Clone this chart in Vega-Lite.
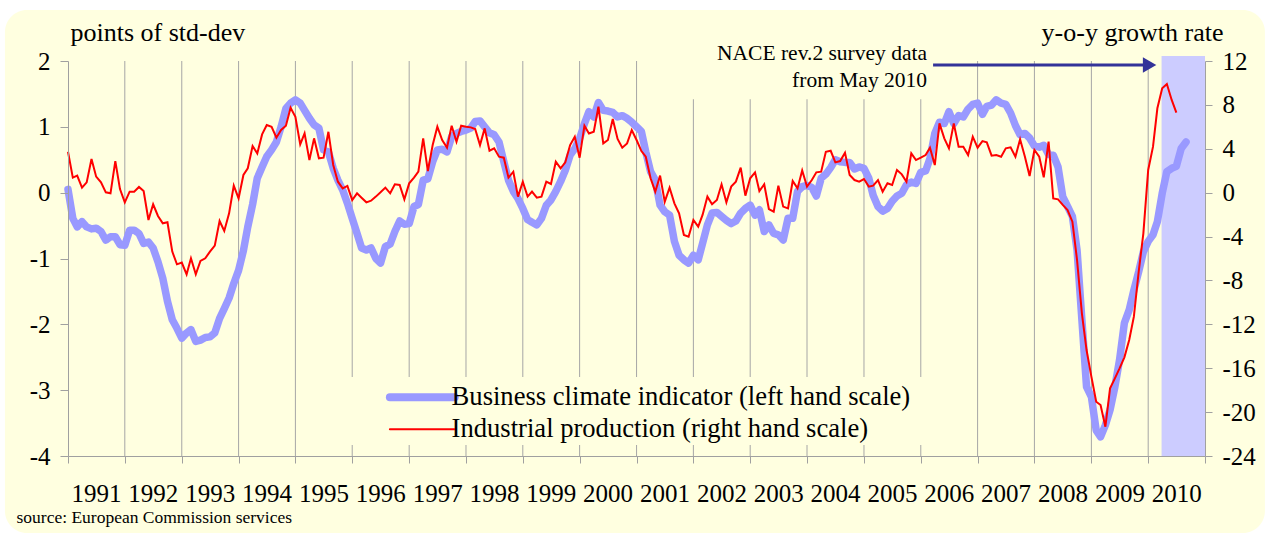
{
  "$schema": "https://vega.github.io/schema/vega-lite/v6.json",
  "width": 1137,
  "height": 395,
  "autosize": "none",
  "padding": {"left": 68, "top": 61, "right": 64, "bottom": 79},
  "background": "white",
  "config": {"view": {"stroke": null}, "font": "Liberation Serif"},
  "datasets": {
    "years": [{"yr":"1992-01-01"},{"yr":"1993-01-01"},{"yr":"1994-01-01"},{"yr":"1995-01-01"},{"yr":"1996-01-01"},{"yr":"1997-01-01"},{"yr":"1998-01-01"},{"yr":"1999-01-01"},{"yr":"2000-01-01"},{"yr":"2001-01-01"},{"yr":"2002-01-01"},{"yr":"2003-01-01"},{"yr":"2004-01-01"},{"yr":"2005-01-01"},{"yr":"2006-01-01"},{"yr":"2007-01-01"},{"yr":"2008-01-01"},{"yr":"2009-01-01"},{"yr":"2010-01-01"}],
    "series": [
      {"d":"1991-01-01","b":0.05,"p":3.73},{"d":"1991-02-01","b":-0.39,"p":1.37},{"d":"1991-03-01","b":-0.52,"p":1.55},{"d":"1991-04-01","b":-0.44,"p":0.46},{"d":"1991-05-01","b":-0.52,"p":0.94},{"d":"1991-06-01","b":-0.55,"p":3.07},{"d":"1991-07-01","b":-0.54,"p":1.46},{"d":"1991-08-01","b":-0.59,"p":0.94},{"d":"1991-09-01","b":-0.72,"p":0.03},{"d":"1991-10-01","b":-0.67,"p":-0.06},{"d":"1991-11-01","b":-0.67,"p":2.88},{"d":"1991-12-01","b":-0.79,"p":0.33},
      {"d":"1992-01-01","b":-0.80,"p":-0.88},{"d":"1992-02-01","b":-0.57,"p":0.09},{"d":"1992-03-01","b":-0.57,"p":0.09},{"d":"1992-04-01","b":-0.62,"p":0.52},{"d":"1992-05-01","b":-0.77,"p":0.15},{"d":"1992-06-01","b":-0.75,"p":-2.49},{"d":"1992-07-01","b":-0.84,"p":-1.06},{"d":"1992-08-01","b":-1.05,"p":-2.12},{"d":"1992-09-01","b":-1.30,"p":-2.79},{"d":"1992-10-01","b":-1.65,"p":-2.70},{"d":"1992-11-01","b":-1.93,"p":-5.37},{"d":"1992-12-01","b":-2.06,"p":-6.53},
      {"d":"1993-01-01","b":-2.21,"p":-6.37},{"d":"1993-02-01","b":-2.13,"p":-7.44},{"d":"1993-03-01","b":-2.08,"p":-5.98},{"d":"1993-04-01","b":-2.26,"p":-7.44},{"d":"1993-05-01","b":-2.24,"p":-6.22},{"d":"1993-06-01","b":-2.20,"p":-5.98},{"d":"1993-07-01","b":-2.19,"p":-5.37},{"d":"1993-08-01","b":-2.13,"p":-4.83},{"d":"1993-09-01","b":-1.91,"p":-2.58},{"d":"1993-10-01","b":-1.76,"p":-3.49},{"d":"1993-11-01","b":-1.60,"p":-1.88},{"d":"1993-12-01","b":-1.38,"p":0.64},
      {"d":"1994-01-01","b":-1.18,"p":-0.52},{"d":"1994-02-01","b":-0.88,"p":1.61},{"d":"1994-03-01","b":-0.52,"p":2.22},{"d":"1994-04-01","b":-0.18,"p":4.25},{"d":"1994-05-01","b":0.22,"p":3.58},{"d":"1994-06-01","b":0.39,"p":5.31},{"d":"1994-07-01","b":0.55,"p":6.16},{"d":"1994-08-01","b":0.65,"p":6.01},{"d":"1994-09-01","b":0.77,"p":5.01},{"d":"1994-10-01","b":1.00,"p":5.71},{"d":"1994-11-01","b":1.28,"p":6.10},{"d":"1994-12-01","b":1.36,"p":7.74},
      {"d":"1995-01-01","b":1.41,"p":6.92},{"d":"1995-02-01","b":1.36,"p":4.40},{"d":"1995-03-01","b":1.25,"p":5.40},{"d":"1995-04-01","b":1.13,"p":2.97},{"d":"1995-05-01","b":1.03,"p":4.95},{"d":"1995-06-01","b":0.98,"p":3.13},{"d":"1995-07-01","b":0.65,"p":3.19},{"d":"1995-08-01","b":0.62,"p":5.55},{"d":"1995-09-01","b":0.37,"p":2.52},{"d":"1995-10-01","b":0.19,"p":1.00},{"d":"1995-11-01","b":0.04,"p":0.39},{"d":"1995-12-01","b":-0.16,"p":0.61},
      {"d":"1996-01-01","b":-0.39,"p":-0.67},{"d":"1996-02-01","b":-0.62,"p":-0.06},{"d":"1996-03-01","b":-0.84,"p":-0.46},{"d":"1996-04-01","b":-0.87,"p":-0.88},{"d":"1996-05-01","b":-0.84,"p":-0.73},{"d":"1996-06-01","b":-1.00,"p":-0.36},{"d":"1996-07-01","b":-1.07,"p":0.03},{"d":"1996-08-01","b":-0.82,"p":0.46},{"d":"1996-09-01","b":-0.78,"p":-0.06},{"d":"1996-10-01","b":-0.59,"p":0.76},{"d":"1996-11-01","b":-0.43,"p":0.70},{"d":"1996-12-01","b":-0.48,"p":-0.61},
      {"d":"1997-01-01","b":-0.47,"p":0.85},{"d":"1997-02-01","b":-0.21,"p":1.37},{"d":"1997-03-01","b":-0.18,"p":1.91},{"d":"1997-04-01","b":0.19,"p":4.95},{"d":"1997-05-01","b":0.21,"p":1.97},{"d":"1997-06-01","b":0.47,"p":4.34},{"d":"1997-07-01","b":0.65,"p":6.01},{"d":"1997-08-01","b":0.66,"p":4.80},{"d":"1997-09-01","b":0.62,"p":4.10},{"d":"1997-10-01","b":0.85,"p":6.10},{"d":"1997-11-01","b":0.90,"p":4.64},{"d":"1997-12-01","b":0.93,"p":6.10},
      {"d":"1998-01-01","b":0.95,"p":6.01},{"d":"1998-02-01","b":0.98,"p":5.95},{"d":"1998-03-01","b":1.08,"p":5.80},{"d":"1998-04-01","b":1.09,"p":4.34},{"d":"1998-05-01","b":1.00,"p":5.86},{"d":"1998-06-01","b":0.91,"p":3.82},{"d":"1998-07-01","b":0.88,"p":4.04},{"d":"1998-08-01","b":0.77,"p":3.28},{"d":"1998-09-01","b":0.47,"p":3.19},{"d":"1998-10-01","b":0.19,"p":1.37},{"d":"1998-11-01","b":0.02,"p":1.91},{"d":"1998-12-01","b":-0.09,"p":-0.36},
      {"d":"1999-01-01","b":-0.24,"p":1.00},{"d":"1999-02-01","b":-0.41,"p":-0.36},{"d":"1999-03-01","b":-0.45,"p":0.09},{"d":"1999-04-01","b":-0.49,"p":-0.46},{"d":"1999-05-01","b":-0.39,"p":-0.36},{"d":"1999-06-01","b":-0.19,"p":1.00},{"d":"1999-07-01","b":-0.11,"p":0.79},{"d":"1999-08-01","b":0.02,"p":2.82},{"d":"1999-09-01","b":0.17,"p":2.22},{"d":"1999-10-01","b":0.34,"p":2.76},{"d":"1999-11-01","b":0.57,"p":4.34},{"d":"1999-12-01","b":0.67,"p":5.10},
      {"d":"2000-01-01","b":0.82,"p":3.19},{"d":"2000-02-01","b":1.05,"p":6.10},{"d":"2000-03-01","b":1.23,"p":5.40},{"d":"2000-04-01","b":1.15,"p":5.55},{"d":"2000-05-01","b":1.37,"p":7.83},{"d":"2000-06-01","b":1.25,"p":4.49},{"d":"2000-07-01","b":1.24,"p":4.80},{"d":"2000-08-01","b":1.22,"p":6.71},{"d":"2000-09-01","b":1.15,"p":4.89},{"d":"2000-10-01","b":1.17,"p":4.10},{"d":"2000-11-01","b":1.13,"p":4.49},{"d":"2000-12-01","b":1.07,"p":5.71},
      {"d":"2001-01-01","b":1.00,"p":4.80},{"d":"2001-02-01","b":0.93,"p":3.79},{"d":"2001-03-01","b":0.62,"p":3.28},{"d":"2001-04-01","b":0.32,"p":1.31},{"d":"2001-05-01","b":0.19,"p":0.09},{"d":"2001-06-01","b":-0.19,"p":1.55},{"d":"2001-07-01","b":-0.29,"p":-0.82},{"d":"2001-08-01","b":-0.34,"p":0.46},{"d":"2001-09-01","b":-0.74,"p":-0.97},{"d":"2001-10-01","b":-0.95,"p":-1.88},{"d":"2001-11-01","b":-1.02,"p":-3.85},{"d":"2001-12-01","b":-1.07,"p":-4.01},
      {"d":"2002-01-01","b":-0.95,"p":-2.49},{"d":"2002-02-01","b":-1.02,"p":-3.10},{"d":"2002-03-01","b":-0.77,"p":-2.03},{"d":"2002-04-01","b":-0.49,"p":-0.36},{"d":"2002-05-01","b":-0.31,"p":-1.06},{"d":"2002-06-01","b":-0.30,"p":-0.67},{"d":"2002-07-01","b":-0.36,"p":0.76},{"d":"2002-08-01","b":-0.42,"p":-0.88},{"d":"2002-09-01","b":-0.47,"p":0.55},{"d":"2002-10-01","b":-0.43,"p":1.00},{"d":"2002-11-01","b":-0.31,"p":2.28},{"d":"2002-12-01","b":-0.24,"p":-0.27},
      {"d":"2003-01-01","b":-0.19,"p":1.31},{"d":"2003-02-01","b":-0.34,"p":1.85},{"d":"2003-03-01","b":-0.26,"p":0.15},{"d":"2003-04-01","b":-0.59,"p":0.76},{"d":"2003-05-01","b":-0.49,"p":-1.49},{"d":"2003-06-01","b":-0.62,"p":-1.73},{"d":"2003-07-01","b":-0.64,"p":0.64},{"d":"2003-08-01","b":-0.72,"p":-1.27},{"d":"2003-09-01","b":-0.39,"p":-1.43},{"d":"2003-10-01","b":-0.39,"p":1.06},{"d":"2003-11-01","b":0.02,"p":0.39},{"d":"2003-12-01","b":0.09,"p":2.03},
      {"d":"2004-01-01","b":0.11,"p":0.55},{"d":"2004-02-01","b":0.08,"p":1.15},{"d":"2004-03-01","b":-0.05,"p":1.85},{"d":"2004-04-01","b":0.22,"p":1.91},{"d":"2004-05-01","b":0.28,"p":3.73},{"d":"2004-06-01","b":0.38,"p":3.82},{"d":"2004-07-01","b":0.50,"p":2.76},{"d":"2004-08-01","b":0.47,"p":2.88},{"d":"2004-09-01","b":0.46,"p":3.64},{"d":"2004-10-01","b":0.46,"p":1.61},{"d":"2004-11-01","b":0.36,"p":1.15},{"d":"2004-12-01","b":0.39,"p":1.00},
      {"d":"2005-01-01","b":0.37,"p":1.24},{"d":"2005-02-01","b":0.22,"p":0.55},{"d":"2005-03-01","b":-0.04,"p":0.64},{"d":"2005-04-01","b":-0.21,"p":1.15},{"d":"2005-05-01","b":-0.28,"p":0.09},{"d":"2005-06-01","b":-0.24,"p":0.85},{"d":"2005-07-01","b":-0.13,"p":0.70},{"d":"2005-08-01","b":-0.05,"p":2.06},{"d":"2005-09-01","b":-0.01,"p":1.67},{"d":"2005-10-01","b":0.12,"p":1.00},{"d":"2005-11-01","b":0.16,"p":3.58},{"d":"2005-12-01","b":0.14,"p":2.97},
      {"d":"2006-01-01","b":0.31,"p":3.19},{"d":"2006-02-01","b":0.33,"p":3.43},{"d":"2006-03-01","b":0.52,"p":4.10},{"d":"2006-04-01","b":0.90,"p":2.52},{"d":"2006-05-01","b":1.07,"p":6.31},{"d":"2006-06-01","b":1.05,"p":4.95},{"d":"2006-07-01","b":1.23,"p":4.04},{"d":"2006-08-01","b":1.05,"p":6.31},{"d":"2006-09-01","b":1.17,"p":4.19},{"d":"2006-10-01","b":1.15,"p":4.19},{"d":"2006-11-01","b":1.27,"p":3.43},{"d":"2006-12-01","b":1.34,"p":5.10},
      {"d":"2007-01-01","b":1.36,"p":4.10},{"d":"2007-02-01","b":1.19,"p":4.70},{"d":"2007-03-01","b":1.31,"p":4.58},{"d":"2007-04-01","b":1.33,"p":3.37},{"d":"2007-05-01","b":1.41,"p":3.43},{"d":"2007-06-01","b":1.36,"p":3.28},{"d":"2007-07-01","b":1.34,"p":4.04},{"d":"2007-08-01","b":1.21,"p":4.13},{"d":"2007-09-01","b":1.02,"p":3.28},{"d":"2007-10-01","b":0.88,"p":4.86},{"d":"2007-11-01","b":0.90,"p":3.28},{"d":"2007-12-01","b":0.83,"p":1.52},
      {"d":"2008-01-01","b":0.71,"p":3.89},{"d":"2008-02-01","b":0.69,"p":3.28},{"d":"2008-03-01","b":0.72,"p":1.40},{"d":"2008-04-01","b":0.58,"p":4.65},{"d":"2008-05-01","b":0.57,"p":-0.52},{"d":"2008-06-01","b":0.39,"p":-0.61},{"d":"2008-07-01","b":-0.06,"p":-1.12},{"d":"2008-08-01","b":-0.21,"p":-1.58},{"d":"2008-09-01","b":-0.36,"p":-2.64},{"d":"2008-10-01","b":-0.87,"p":-6.14},{"d":"2008-11-01","b":-1.93,"p":-11.0},{"d":"2008-12-01","b":-2.95,"p":-14.34},
      {"d":"2009-01-01","b":-3.10,"p":-16.77},{"d":"2009-02-01","b":-3.61,"p":-19.05},{"d":"2009-03-01","b":-3.71,"p":-19.35},{"d":"2009-04-01","b":-3.53,"p":-21.33},{"d":"2009-05-01","b":-3.30,"p":-17.83},{"d":"2009-06-01","b":-2.95,"p":-16.92},{"d":"2009-07-01","b":-2.54,"p":-16.01},{"d":"2009-08-01","b":-1.98,"p":-15.01},{"d":"2009-09-01","b":-1.78,"p":-13.43},{"d":"2009-10-01","b":-1.48,"p":-11.30},{"d":"2009-11-01","b":-1.20,"p":-7.20},{"d":"2009-12-01","b":-0.90,"p":-3.71},
      {"d":"2010-01-01","b":-0.74,"p":2.07},{"d":"2010-02-01","b":-0.64,"p":4.19},{"d":"2010-03-01","b":-0.44,"p":7.69},{"d":"2010-04-01","b":-0.01,"p":9.51},{"d":"2010-05-01","b":0.32,"p":9.90},{"d":"2010-06-01","b":0.37,"p":8.45},{"d":"2010-07-01","b":0.40,"p":7.29},{"d":"2010-08-01","b":0.67},{"d":"2010-09-01","b":0.77}
    ]
  },
  "layer": [
    {
      "data": {"values": [{}]},
      "mark": {"type": "rect", "fill": "#FFFFE0", "cornerRadius": 22},
      "encoding": {
        "x": {"datum": {"year": 1989, "month": 11, "date": 22, "utc": true}, "type": "temporal",
              "scale": {"type": "utc", "domain": [{"year": 1991, "month": 1, "date": 1, "utc": true}, {"year": 2011, "month": 1, "date": 1, "utc": true}]}},
        "x2": {"datum": {"year": 2012, "month": 1, "date": 21, "utc": true}},
        "y": {"datum": 2.775, "type": "quantitative", "axis": null, "scale": {"domain": [-4, 2], "nice": false, "zero": false}},
        "y2": {"datum": -5.17}
      }
    },
    {
      "data": {"name": "years"},
      "mark": {"type": "rule", "color": "#A6A6A6", "strokeWidth": 1},
      "encoding": {
        "x": {"field": "yr", "type": "temporal",
              "scale": {"type": "utc", "domain": [{"year": 1991, "month": 1, "date": 1, "utc": true}, {"year": 2011, "month": 1, "date": 1, "utc": true}]}},
        "y": {"datum": 2, "type": "quantitative", "axis": null, "scale": {"domain": [-4, 2], "nice": false, "zero": false}},
        "y2": {"datum": -4}
      }
    },
    {
      "data": {"values": [{}]},
      "mark": {"type": "rect", "fill": "#FFFFE0"},
      "encoding": {
        "x": {"datum": {"year": 1995, "month": 9, "date": 12, "utc": true}, "type": "temporal",
              "scale": {"type": "utc", "domain": [{"year": 1991, "month": 1, "date": 1, "utc": true}, {"year": 2011, "month": 1, "date": 1, "utc": true}]}},
        "x2": {"datum": {"year": 2006, "month": 4, "date": 1, "utc": true}},
        "y": {"datum": -2.8, "type": "quantitative", "axis": null, "scale": {"domain": [-4, 2], "nice": false, "zero": false}},
        "y2": {"datum": -3.833}
      }
    },
    {
      "data": {"values": [{}]},
      "mark": {"type": "rect", "fill": "#FFFFE0"},
      "encoding": {
        "x": {"datum": {"year": 2001, "month": 12, "date": 10, "utc": true}, "type": "temporal",
              "scale": {"type": "utc", "domain": [{"year": 1991, "month": 1, "date": 1, "utc": true}, {"year": 2011, "month": 1, "date": 1, "utc": true}]}},
        "x2": {"datum": {"year": 2006, "month": 3, "date": 12, "utc": true}},
        "y": {"datum": 2.02, "type": "quantitative", "axis": null, "scale": {"domain": [-4, 2], "nice": false, "zero": false}},
        "y2": {"datum": 1.42}
      }
    },
    {
      "data": {"values": [{}]},
      "mark": {"type": "rect", "fill": "#CCCCFF"},
      "encoding": {
        "x": {"datum": {"year": 2010, "month": 3, "date": 28, "utc": true}, "type": "temporal",
              "scale": {"type": "utc", "domain": [{"year": 1991, "month": 1, "date": 1, "utc": true}, {"year": 2011, "month": 1, "date": 1, "utc": true}]}},
        "x2": {"datum": {"year": 2011, "month": 1, "date": 1, "utc": true}},
        "y": {"datum": 2.076, "type": "quantitative", "axis": null, "scale": {"domain": [-4, 2], "nice": false, "zero": false}},
        "y2": {"datum": -4}
      }
    },
    {
      "data": {"values": [{}]},
      "mark": {"type": "rule", "color": "#333399", "strokeWidth": 3},
      "encoding": {
        "x": {"datum": {"year": 2006, "month": 3, "date": 21, "utc": true}, "type": "temporal",
              "scale": {"type": "utc", "domain": [{"year": 1991, "month": 1, "date": 1, "utc": true}, {"year": 2011, "month": 1, "date": 1, "utc": true}]}},
        "x2": {"datum": {"year": 2010, "month": 1, "date": 1, "utc": true}},
        "y": {"datum": 1.939, "type": "quantitative", "axis": null, "scale": {"domain": [-4, 2], "nice": false, "zero": false}}
      }
    },
    {
      "data": {"values": [{}]},
      "mark": {"type": "point", "shape": "triangle-right", "filled": true, "color": "#333399", "size": 240, "opacity": 1},
      "encoding": {
        "x": {"datum": {"year": 2010, "month": 1, "date": 10, "utc": true}, "type": "temporal",
              "scale": {"type": "utc", "domain": [{"year": 1991, "month": 1, "date": 1, "utc": true}, {"year": 2011, "month": 1, "date": 1, "utc": true}]}},
        "y": {"datum": 1.939, "type": "quantitative", "axis": null, "scale": {"domain": [-4, 2], "nice": false, "zero": false}}
      }
    },
    {
      "data": {"values": [{}]},
      "mark": {"type": "text", "text": ["NACE rev.2 survey data", "from May 2010"], "align": "right", "baseline": "alphabetic", "fontSize": 21.5, "lineHeight": 27, "color": "black"},
      "encoding": {
        "x": {"datum": {"year": 2006, "month": 2, "date": 10, "utc": true}, "type": "temporal",
              "scale": {"type": "utc", "domain": [{"year": 1991, "month": 1, "date": 1, "utc": true}, {"year": 2011, "month": 1, "date": 1, "utc": true}]}},
        "y": {"datum": 2.015, "type": "quantitative", "axis": null, "scale": {"domain": [-4, 2], "nice": false, "zero": false}}
      }
    },
    {
      "data": {"name": "series"},
      "mark": {"type": "line", "strokeWidth": 7.5, "strokeCap": "round", "strokeJoin": "round"},
      "encoding": {
        "x": {"field": "d", "type": "temporal",
              "scale": {"type": "utc", "domain": [{"year": 1991, "month": 1, "date": 1, "utc": true}, {"year": 2011, "month": 1, "date": 1, "utc": true}]}},
        "y": {"field": "b", "type": "quantitative",
              "scale": {"domain": [-4, 2], "nice": false, "zero": false},
              "axis": {
                "orient": "left",
                "values": [-4, -3, -2, -1, 0, 1, 2],
                "labelExpr": "datum.value + ''",
                "labelFontSize": 25,
                "labelColor": "black",
                "labelPadding": 10,
                "labelFlush": false,
                "tickSize": 8,
                "tickColor": "#A0A0A0",
                "domainColor": "#A0A0A0",
                "grid": false,
                "zindex": 1,
                "title": "points of std-dev",
                "titleAngle": 0,
                "titleAlign": "left",
                "titleBaseline": "alphabetic",
                "titleFontSize": 26,
                "titleFontWeight": "normal",
                "titleColor": "black",
                "titleX": 2,
                "titleY": -21
              }},
        "color": {"datum": "Business climate indicator (left hand scale)",
                  "scale": {"domain": ["Business climate indicator (left hand scale)", "Industrial production (right hand scale)"], "range": ["#9999FF", "#FF0000"]},
                  "legend": {
                    "orient": "none",
                    "legendX": 341,
                    "legendY": 323,
                    "title": null,
                    "padding": 0,
                    "symbolType": "stroke",
                    "symbolSize": 4200,
                    "symbolStrokeWidth": 2,
                    "labelFontSize": 26.6,
                    "labelColor": "black",
                    "labelOffset": 16,
                    "labelLimit": 0,
                    "rowPadding": 2,
                    "encode": {"symbols": {"update": {
                      "strokeWidth": {"signal": "datum.value === 'Business climate indicator (left hand scale)' ? 8 : 2"},
                      "strokeCap": {"value": "round"}
                    }}}
                  }}
      }
    },
    {
      "data": {"name": "series"},
      "mark": {"type": "line", "strokeWidth": 2, "strokeJoin": "miter"},
      "encoding": {
        "x": {"field": "d", "type": "temporal",
              "scale": {"type": "utc", "domain": [{"year": 1991, "month": 1, "date": 1, "utc": true}, {"year": 2011, "month": 1, "date": 1, "utc": true}]},
              "axis": {
                "values": [{"year":1991,"month":1,"date":1,"utc":true},{"year":1992,"month":1,"date":1,"utc":true},{"year":1993,"month":1,"date":1,"utc":true},{"year":1994,"month":1,"date":1,"utc":true},{"year":1995,"month":1,"date":1,"utc":true},{"year":1996,"month":1,"date":1,"utc":true},{"year":1997,"month":1,"date":1,"utc":true},{"year":1998,"month":1,"date":1,"utc":true},{"year":1999,"month":1,"date":1,"utc":true},{"year":2000,"month":1,"date":1,"utc":true},{"year":2001,"month":1,"date":1,"utc":true},{"year":2002,"month":1,"date":1,"utc":true},{"year":2003,"month":1,"date":1,"utc":true},{"year":2004,"month":1,"date":1,"utc":true},{"year":2005,"month":1,"date":1,"utc":true},{"year":2006,"month":1,"date":1,"utc":true},{"year":2007,"month":1,"date":1,"utc":true},{"year":2008,"month":1,"date":1,"utc":true},{"year":2009,"month":1,"date":1,"utc":true},{"year":2010,"month":1,"date":1,"utc":true},{"year":2011,"month":1,"date":1,"utc":true}],
                "labelExpr": "utcyear(datum.value) > 2010 ? '' : utcFormat(datum.value, '%Y')",
                "labelOffset": 28,
                "labelFontSize": 25,
                "labelColor": "black",
                "labelBaseline": "alphabetic",
                "labelPadding": 38,
                "labelFlush": false,
                "labelOverlap": false,
                "labelBound": false,
                "tickSize": 7,
                "tickColor": "#A0A0A0",
                "domainColor": "#A0A0A0",
                "grid": false,
                "zindex": 1,
                "title": "source: European Commission services",
                "titleFontSize": 17.5,
                "titleFontWeight": "normal",
                "titleColor": "black",
                "titleAlign": "left",
                "titleAnchor": "start",
                "titleBaseline": "alphabetic",
                "titleX": -52,
                "titleY": 66
              }},
        "y": {"field": "p", "type": "quantitative",
              "scale": {"domain": [-24, 12], "nice": false, "zero": false},
              "axis": {
                "orient": "right",
                "values": [-24, -20, -16, -12, -8, -4, 0, 4, 8, 12],
                "labelExpr": "datum.value + ''",
                "labelFontSize": 25,
                "labelColor": "black",
                "labelPadding": 10,
                "labelFlush": false,
                "tickSize": 7,
                "tickColor": "#A0A0A0",
                "domainColor": "#A0A0A0",
                "grid": false,
                "zindex": 1,
                "title": "y-o-y growth rate",
                "titleAngle": 0,
                "titleAlign": "right",
                "titleBaseline": "alphabetic",
                "titleFontSize": 26,
                "titleFontWeight": "normal",
                "titleColor": "black",
                "titleX": 18,
                "titleY": -21
              }},
        "color": {"datum": "Industrial production (right hand scale)",
                  "scale": {"domain": ["Business climate indicator (left hand scale)", "Industrial production (right hand scale)"], "range": ["#9999FF", "#FF0000"]}}
      }
    }
  ],
  "resolve": {"scale": {"y": "independent"}}
}
